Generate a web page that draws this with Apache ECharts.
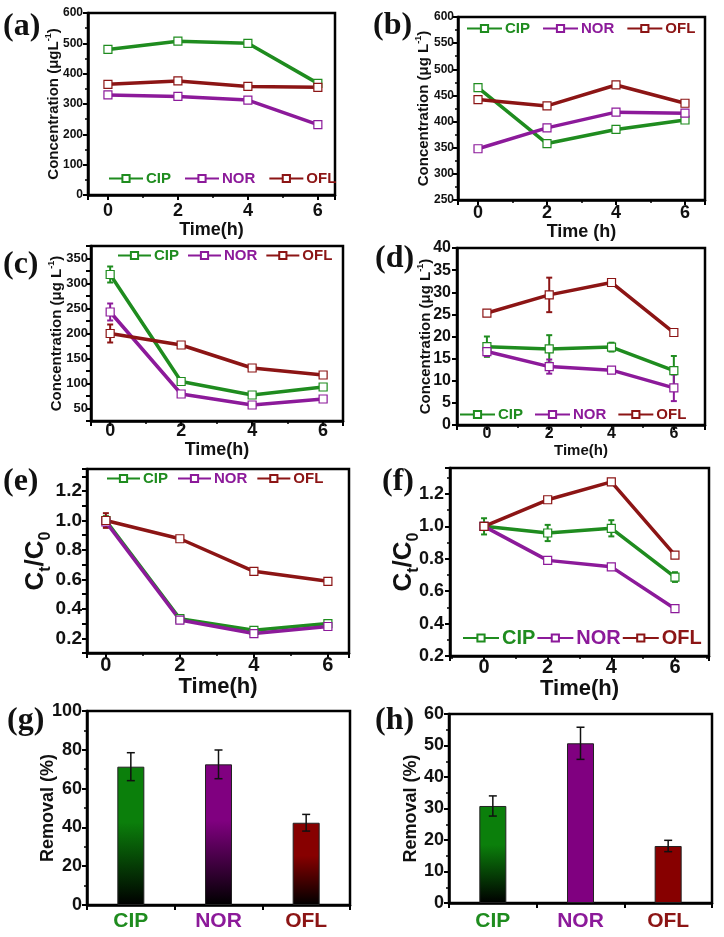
<!DOCTYPE html>
<html><head><meta charset="utf-8">
<script src="https://cdn.jsdelivr.net/npm/echarts@6/dist/echarts.min.js"></script>
<style>html,body{margin:0;padding:0;background:#fff}#c{width:724px;height:937px}</style>
</head><body><div id="c"></div>
<script>
// ---------- DATA ----------
const times = [0, 2, 4, 6];
const seriesNames = ['CIP', 'NOR', 'OFL'];
// (a)
const aCIP = [480, 507, 500, 368];
const aNOR = [330, 325, 313, 232];
const aOFL = [365, 376, 358, 355];
// (b)
const bCIP = [465, 358, 385, 403];
const bNOR = [348, 388, 418, 416];
const bOFL = [442, 430, 470, 435];
// (c)
const cCIP = [318, 104, 77, 93];
const cNOR = [243, 79, 57, 69];
const cOFL = [200, 177, 131, 117];
const cCIPerr = [16, 4, 4, 4];
const cNORerr = [17, 3, 3, 3];
const cOFLerr = [18, 4, 4, 4];
// (d)
const dCIP = [17.7, 17.2, 17.6, 12.3];
const dNOR = [16.6, 13.2, 12.4, 8.4];
const dOFL = [25.3, 29.4, 32.2, 20.9];
const dCIPerr = [2.3, 3.1, 1.0, 3.3];
const dNORerr = [1.0, 1.6, 0.4, 3.0];
const dOFLerr = [0.3, 3.9, 0.3, 0.3];
// (e)
const eCIP = [1.0, 0.333, 0.254, 0.30];
const eNOR = [0.99, 0.324, 0.232, 0.28];
const eOFL = [1.0, 0.876, 0.655, 0.587];
const eCIPerr = [0.03, 0.015, 0.015, 0.015];
const eNORerr = [0.03, 0.015, 0.02, 0.015];
const eOFLerr = [0.05, 0.015, 0.015, 0.015];
// (f)
const fCIP = [1.0, 0.959, 0.988, 0.687];
const fNOR = [1.0, 0.79, 0.75, 0.492];
const fOFL = [1.0, 1.164, 1.274, 0.822];
const fCIPerr = [0.05, 0.05, 0.05, 0.03];
const fNORerr = [0.01, 0.01, 0.01, 0.01];
const fOFLerr = [0.01, 0.01, 0.01, 0.01];
// (g) (h)
const removalCats = ['CIP', 'NOR', 'OFL'];
const gRemoval = [71.3, 72.5, 42.4];
const gRemovalErr = [7.2, 7.4, 4.3];
const hRemoval = [30.8, 50.7, 18.1];
const hRemovalErr = [3.2, 5.1, 1.8];
// y tick ranges
const aYTicks = [0, 600, 100];
const bYTicks = [250, 600, 50];
const cYTicks = [25, 375, 25];
const dYTicks = [0, 40, 5];
const eYTicks = [0.1, 1.35, 0.1];
const fYTicks = [0.2, 1.36, 0.2];
const gYTicks = [0, 100, 20];
const hYTicks = [0, 60, 10];

// ---------- STYLE ----------
const COL = { CIP: '#1f8c1f', NOR: '#8c1a9a', OFL: '#8c1515' };
const BARCOL = { CIP: '#0b7f0b', NOR: '#800080', OFL: '#870000' };
const SANS = "'Liberation Sans', Arial, sans-serif";
const NARROW = "'Liberation Sans Narrow', 'Liberation Sans', Arial, sans-serif";
const SERIF = "'Liberation Serif', 'Times New Roman', serif";

const chart = echarts.init(document.getElementById('c'), null, { renderer: 'canvas' });

const grids = [], xAxes = [], yAxes = [], series = [], legends = [], graphics = [];

function errRender(color, lw, hw) {
  return function (params, api) {
    const x = api.value(0), y = api.value(1), e = api.value(2);
    const t = api.coord([x, y + e]), b = api.coord([x, y - e]);
    const st = { stroke: color, lineWidth: lw };
    return { type: 'group', children: [
      { type: 'line', shape: { x1: t[0], y1: t[1], x2: b[0], y2: b[1] }, style: st },
      { type: 'line', shape: { x1: t[0] - hw, y1: t[1], x2: t[0] + hw, y2: t[1] }, style: st },
      { type: 'line', shape: { x1: b[0] - hw, y1: b[1], x2: b[0] + hw, y2: b[1] }, style: st }
    ]};
  };
}

function yName(txt, size, sup) {
  return {
    name: sup ? '{n|' + txt + '}{s|-1}{n|)}' : txt,
    nameMoveOverlap: false,
    nameTextStyle: { fontFamily: SANS, fontWeight: 'bold', fontSize: size, color: '#111',
      rich: { n: { fontFamily: SANS, fontWeight: 'bold', fontSize: size, color: '#111', lineHeight: size + 4 },
              s: { fontFamily: SANS, fontWeight: 'bold', fontSize: Math.round(size * 0.62), color: '#111', verticalAlign: 'top', lineHeight: size + 4 } } }
  };
}

function linePanel(p) {
  const i = grids.length;
  grids.push({ left: p.grid[0], top: p.grid[1], width: p.grid[2], height: p.grid[3], show: true,
    borderColor: '#000', borderWidth: 2.5, backgroundColor: 'transparent' });
  xAxes.push({
    type: 'value', gridIndex: i, min: p.xr[0], max: p.xr[1], splitNumber: p.xsplit || 4,
    name: p.xname, nameLocation: 'middle', nameGap: p.xgap,
    nameTextStyle: { fontFamily: NARROW, fontWeight: 'bold', fontSize: p.xnameSize, color: '#111' },
    axisLine: { show: true, onZero: false, lineStyle: { color: '#000', width: 2.5 } },
    axisTick: { show: true, length: 5, lineStyle: { color: '#000', width: 2 } },
    minorTick: { show: true, splitNumber: 2, length: 3, lineStyle: { color: '#000', width: 1.5 } },
    splitLine: { show: false },
    axisLabel: { margin: p.xmargin, fontFamily: NARROW, fontWeight: 'bold', fontSize: p.xlabSize, color: '#111',
      formatter: v => (Math.abs(v - Math.round(v)) < 1e-6 && Math.round(v) % 2 === 0 && v >= 0 && v <= 6) ? String(Math.round(v)) : '' }
  });
  const yn = yName(p.yname, p.ynameSize, p.ysup);
  yAxes.push(Object.assign({
    type: 'value', gridIndex: i, min: p.yt[0], max: p.yt[1], interval: p.yt[2],
    nameLocation: 'middle', nameGap: p.ygap,
    axisLine: { show: true, onZero: false, lineStyle: { color: '#000', width: 2.5 } },
    axisTick: { show: true, length: 5, lineStyle: { color: '#000', width: 2 } },
    minorTick: { show: p.yminor !== false, splitNumber: 2, length: 3, lineStyle: { color: '#000', width: 1.5 } },
    splitLine: { show: false },
    axisLabel: { margin: p.ymargin, fontFamily: SANS, fontWeight: 'bold', fontSize: p.ylabSize, color: '#111',
      formatter: p.yfmt || (v => String(v)) }
  }, yn));
  p.data.forEach((arr, k) => {
    const nm = seriesNames[k];
    series.push({
      type: 'line', name: nm, xAxisIndex: i, yAxisIndex: i, color: COL[nm],
      data: times.map((t, j) => [t, arr[j]]),
      lineStyle: { width: 3.5, color: COL[nm] },
      symbol: 'rect', symbolSize: 8,
      itemStyle: { color: '#fff', borderColor: COL[nm], borderWidth: 1.2 },
      z: 3, animation: false
    });
    if (p.err) {
      series.push({
        type: 'custom', name: 'err' + i + nm, xAxisIndex: i, yAxisIndex: i, silent: true, z: 2,
        data: times.map((t, j) => [t, arr[j], p.err[k][j]]),
        renderItem: errRender(COL[nm], 2, 3), animation: false
      });
    }
  });
  legends.push({
    left: p.leg[0], top: p.leg[1], itemWidth: p.leg[2], itemHeight: 9, itemGap: p.leg[3],
    selectedMode: false, orient: 'horizontal', padding: 0,
    data: seriesNames.map(n => ({ name: n, textStyle: { color: COL[n] } })),
    textStyle: { fontFamily: SANS, fontWeight: 'bold', fontSize: p.leg[4], padding: [0, 0, 0, -2] }
  });
}

function barPanel(p) {
  const i = grids.length;
  grids.push({ left: p.grid[0], top: p.grid[1], width: p.grid[2], height: p.grid[3], show: true,
    borderColor: '#000', borderWidth: 2.5, backgroundColor: 'transparent' });
  xAxes.push({
    type: 'category', gridIndex: i,
    data: removalCats.map(c => ({ value: c, textStyle: { color: COL[c] } })),
    axisLine: { show: true, lineStyle: { color: '#000', width: 2.5 } },
    axisTick: { show: true, length: 5, lineStyle: { color: '#000', width: 2 } },
    axisLabel: { margin: p.xmargin, fontFamily: SANS, fontWeight: 'bold', fontSize: 21 },
    splitLine: { show: false }
  });
  yAxes.push(Object.assign({
    type: 'value', gridIndex: i, min: p.yt[0], max: p.yt[1], interval: p.yt[2],
    nameLocation: 'middle', nameGap: p.ygap,
    axisLine: { show: true, lineStyle: { color: '#000', width: 2.5 } },
    axisTick: { show: true, length: 5, lineStyle: { color: '#000', width: 2 } },
    minorTick: { show: true, splitNumber: 2, length: 3, lineStyle: { color: '#000', width: 1.5 } },
    splitLine: { show: false },
    axisLabel: { margin: 5, fontFamily: SANS, fontWeight: 'bold', fontSize: 18, color: '#111' }
  }, yName('Removal (%)', 18, false)));
  series.push({
    type: 'bar', xAxisIndex: i, yAxisIndex: i, barWidth: 27, animation: false, z: 2,
    data: p.vals.map((v, k) => {
      const c = BARCOL[removalCats[k]];
      const grad = p.grad[k]
        ? new echarts.graphic.LinearGradient(0, 0, 0, 1, [{ offset: 0, color: c }, { offset: 0.4, color: c }, { offset: 1, color: '#000' }])
        : c;
      return { value: v, itemStyle: { color: grad, borderColor: '#222', borderWidth: 1 } };
    })
  });
  series.push({
    type: 'custom', xAxisIndex: i, yAxisIndex: i, silent: true, z: 4, animation: false,
    data: p.vals.map((v, k) => [k, v, p.errs[k]]),
    renderItem: errRender('#111', 1.5, 4)
  });
}

linePanel({ grid: [88, 13, 247, 182], xr: [-0.57, 6.49], yt: aYTicks,
  data: [aCIP, aNOR, aOFL], xname: 'Time(h)', xgap: 25, xnameSize: 18, xmargin: 7, xlabSize: 18,
  yname: 'Concentration (μgL', ysup: true, ynameSize: 15, ygap: 25, ymargin: 5, ylabSize: 12,
  leg: [108, 171, 34, 13, 15] });
linePanel({ grid: [458, 17, 247, 183], xr: [-0.58, 6.58], yt: bYTicks,
  data: [bCIP, bNOR, bOFL], xname: 'Time (h)', xgap: 22, xnameSize: 18, xmargin: 4, xlabSize: 18,
  yname: 'Concentration (μg L', ysup: true, ynameSize: 15, ygap: 25, ymargin: 4, ylabSize: 12,
  leg: [466, 21, 35, 12, 15] });
linePanel({ grid: [91, 246, 252, 175], xr: [-0.54, 6.56], yt: cYTicks,
  data: [cCIP, cNOR, cOFL], err: [cCIPerr, cNORerr, cOFLerr],
  xname: 'Time(h)', xgap: 17, xnameSize: 18, xmargin: 1, xlabSize: 18,
  yname: 'Concentration (μg L', ysup: true, ynameSize: 15, ygap: 25, ymargin: 3, ylabSize: 13,
  yfmt: v => (Math.round(v) % 50 === 0 ? String(Math.round(v)) : ''), yminor: false,
  leg: [117, 248, 33, 8, 15] });
linePanel({ grid: [457, 248, 248, 177], xr: [-0.96, 7.0], yt: dYTicks,
  data: [dCIP, dNOR, dOFL], err: [dCIPerr, dNORerr, dOFLerr],
  xname: 'Time(h)', xgap: 13, xnameSize: 15, xmargin: 1, xlabSize: 16,
  yname: 'Concentration (μg L', ysup: true, ynameSize: 15, ygap: 22, ymargin: 6, ylabSize: 16, yminor: false,
  leg: [459, 407, 35, 11, 15] });
linePanel({ grid: [87, 469, 262, 184], xr: [-0.51, 6.57], yt: eYTicks,
  data: [eCIP, eNOR, eOFL], err: [eCIPerr, eNORerr, eOFLerr],
  xname: 'Time(h)', xgap: 22, xnameSize: 22, xmargin: 2, xlabSize: 20,
  yname: '{n|C}{sub|t}{n|/C}{sub|0}', ynameSize: 26, ygap: 36, ymargin: 5, ylabSize: 19,
  yfmt: v => (Math.round(v * 10) % 2 === 0 && v < 1.31 ? (Math.round(v * 10) / 10).toFixed(1) : ''), yminor: false,
  leg: [106, 471, 33, 9, 15] });
linePanel({ grid: [450, 468, 259, 188], xr: [-1.07, 7.07], yt: fYTicks,
  data: [fCIP, fNOR, fOFL], err: [fCIPerr, fNORerr, fOFLerr],
  xname: 'Time(h)', xgap: 21, xnameSize: 22, xmargin: 1, xlabSize: 20,
  yname: '{n|C}{sub|t}{n|/C}{sub|0}', ynameSize: 26, ygap: 31, ymargin: 6, ylabSize: 18,
  yfmt: v => (v < 1.3 ? (Math.round(v * 10) / 10).toFixed(1) : ''),
  leg: [462, 628, 36, 1, 20] });
barPanel({ grid: [87, 711, 263, 194], yt: gYTicks, vals: gRemoval, errs: gRemovalErr,
  grad: [true, true, true], ygap: 30, xmargin: 6 });
barPanel({ grid: [449, 714, 263, 189], yt: hYTicks, vals: hRemoval, errs: hRemovalErr,
  grad: [true, false, false], ygap: 29, xmargin: 8 });

// C_t/C_0 rich styles for (e),(f)
[4, 5].forEach(k => {
  yAxes[k].nameTextStyle = { fontFamily: SANS, fontWeight: 'bold', fontSize: 26, color: '#111',
    rich: { n: { fontFamily: SANS, fontWeight: 'bold', fontSize: 26, color: '#111', lineHeight: 30 },
            sub: { fontFamily: SANS, fontWeight: 'bold', fontSize: 16, color: '#111', verticalAlign: 'bottom', lineHeight: 30, padding: [0, 0, -3, 0] } } };
});

// Panel labels
const panelLabels = [['(a)', 3, 11], ['(b)', 373, 10], ['(c)', 3, 249], ['(d)', 375, 243],
  ['(e)', 3, 466], ['(f)', 382, 466], ['(g)', 7, 705], ['(h)', 375, 705]];
panelLabels.forEach(l => graphics.push({ type: 'text', left: l[1], top: l[2],
  style: { text: l[0], font: 'bold 32px ' + SERIF, fill: '#111' } }));

chart.setOption({
  backgroundColor: '#fff', animation: false,
  grid: grids, xAxis: xAxes, yAxis: yAxes, series: series, legend: legends, graphic: graphics
});
</script></body></html>
